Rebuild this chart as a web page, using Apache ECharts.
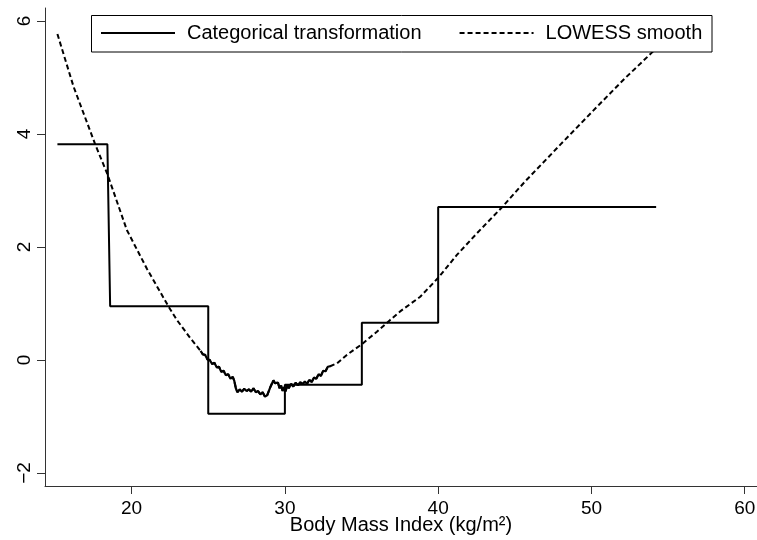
<!DOCTYPE html>
<html>
<head>
<meta charset="utf-8">
<script src="https://cdn.jsdelivr.net/npm/echarts@6/dist/echarts.min.js"></script>
<style>
html,body{margin:0;padding:0;background:#fff;}
#chart{width:757px;height:540px;}
</style>
</head>
<body>
<div id="chart"></div>
<script>
// ---- Data ----
var xTicks = [20, 30, 40, 50, 60];
var yTicks = [-2, 0, 2, 4, 6];

// Categorical transformation (step function)
var catX = [15.16, 18.42, 18.6, 25.0, 25.0, 30.0, 30.0, 35.02, 35.02, 40.0, 40.0, 54.22];
var catY = [3.82, 3.82, 0.95, 0.95, -0.95, -0.95, -0.44, -0.44, 0.66, 0.66, 2.71, 2.71];

// LOWESS smooth
var lowX = [15.16, 16.21, 17.62, 18.42, 19.69, 20.99, 22.4, 22.95, 23.82,
  24.50, 24.65, 24.80, 24.95, 25.10, 25.25, 25.40, 25.55, 25.70, 25.85, 26.00, 26.15, 26.30, 26.45, 26.60, 26.70,
  26.80, 26.90, 27.05, 27.20, 27.35, 27.50, 27.65, 27.80, 27.95, 28.10, 28.25, 28.40, 28.55, 28.70, 28.85, 28.95,
  29.05, 29.15, 29.25, 29.35, 29.45, 29.55, 29.65, 29.75, 29.85, 29.95, 30.05, 30.15, 30.25, 30.40, 30.55, 30.70,
  30.85, 31.00, 31.15, 31.30, 31.45, 31.60, 31.75, 31.90, 32.05, 32.20, 32.35, 32.50, 32.65, 32.80, 32.95,
  33.4, 34.04, 35.02, 36.0, 36.87, 37.52, 38.83, 40.02, 41.22, 42.52, 44.15, 45.67, 48.0, 50.57, 52.2, 53.94, 54.22];
var lowY = [5.77, 4.84, 3.82, 3.29, 2.30, 1.62, 0.95, 0.71, 0.39,
  0.16, 0.10, 0.09, 0.01, 0.00, -0.07, -0.05, -0.13, -0.12, -0.21, -0.19, -0.27, -0.25, -0.33, -0.30, -0.37,
  -0.50, -0.57, -0.52, -0.56, -0.51, -0.55, -0.52, -0.56, -0.50, -0.57, -0.55, -0.61, -0.57, -0.65, -0.62, -0.55,
  -0.48, -0.42, -0.36, -0.41, -0.44, -0.40, -0.50, -0.45, -0.55, -0.48, -0.56, -0.43, -0.50, -0.42, -0.47, -0.40,
  -0.45, -0.39, -0.43, -0.38, -0.42, -0.35, -0.39, -0.31, -0.33, -0.25, -0.28, -0.19, -0.20, -0.12, -0.11,
  -0.06, 0.09, 0.28, 0.50, 0.71, 0.86, 1.12, 1.46, 1.86, 2.24, 2.70, 3.16, 3.82, 4.54, 4.99, 5.44, 5.51];
// range where the LOWESS points are so dense that the dashes merge into a solid, jittery line
var denseFrom = 24.5, denseTo = 32.95;

var legendNames = ['Categorical transformation', 'LOWESS smooth'];
var xTitle = 'Body Mass Index (kg/m\u00b2)';

// ---- Build ----
function pairs(xs, ys) { return xs.map(function (x, i) { return [x, ys[i]]; }); }
var catData = pairs(catX, catY);
var lowData = pairs(lowX, lowY);
var denseData = lowData.filter(function (p) { return p[0] >= denseFrom && p[0] <= denseTo; });
function fmt(v) { return v < 0 ? '\u2212' + Math.abs(v) : String(v); }

var FONT = 'Liberation Sans, Arial, Helvetica, sans-serif';
var chart = echarts.init(document.getElementById('chart'), null, { renderer: 'canvas' });
chart.setOption({
  animation: false,
  backgroundColor: '#fff',
  grid: { left: 45, top: 8, width: 712, height: 478, containLabel: false, outerBoundsMode: 'none' },
  xAxis: {
    type: 'value', min: 14.35, max: 60.8,
    axisLine: { show: true, onZero: false, lineStyle: { color: '#333', width: 1 } },
    axisTick: { show: true, length: 8, customValues: xTicks, lineStyle: { color: '#333' } },
    axisLabel: { customValues: xTicks, margin: 13, color: '#000', fontSize: 19, fontFamily: FONT, formatter: fmt },
    splitLine: { show: false },
    name: xTitle, nameLocation: 'middle', nameGap: 29, nameMoveOverlap: false,
    nameTextStyle: { color: '#000', fontSize: 20, fontFamily: FONT }
  },
  yAxis: {
    type: 'value', min: -2.23, max: 6.23,
    axisLine: { show: true, onZero: false, lineStyle: { color: '#333', width: 1 } },
    axisTick: { show: true, length: 8, customValues: yTicks, lineStyle: { color: '#333' } },
    axisLabel: { customValues: yTicks, rotate: 90, margin: 11, color: '#000', fontSize: 19, fontFamily: FONT, formatter: fmt },
    splitLine: { show: false }
  },
  graphic: [{
    type: 'rect', z: 10, silent: true,
    shape: { x: 91.5, y: 15.5, width: 620.5, height: 36.5 },
    style: { fill: '#fff', stroke: '#000', lineWidth: 1 }
  }],
  legend: {
    data: legendNames, left: 100, top: 23, z: 20,
    itemWidth: 74, itemHeight: 14, itemGap: 37, padding: 0,
    itemStyle: { opacity: 0 },
    textStyle: { color: '#000', fontSize: 20, fontFamily: FONT, padding: [0, 0, 0, 7] }
  },
  series: [
    {
      name: legendNames[0], type: 'line', data: catData, symbol: 'none', z: 3,
      itemStyle: { color: '#000', opacity: 0 },
      lineStyle: { color: '#000', width: 2, type: 'solid' }
    },
    {
      name: legendNames[1], type: 'line', data: lowData, symbol: 'none', z: 2,
      itemStyle: { color: '#000', opacity: 0 },
      lineStyle: { color: '#000', width: 2, type: [5, 3] }
    },
    {
      name: 'LOWESS dense', type: 'line', data: denseData, symbol: 'none', z: 2,
      itemStyle: { color: '#000', opacity: 0 },
      lineStyle: { color: '#000', width: 2.2, type: 'solid' }
    }
  ]
});
</script>
</body>
</html>
